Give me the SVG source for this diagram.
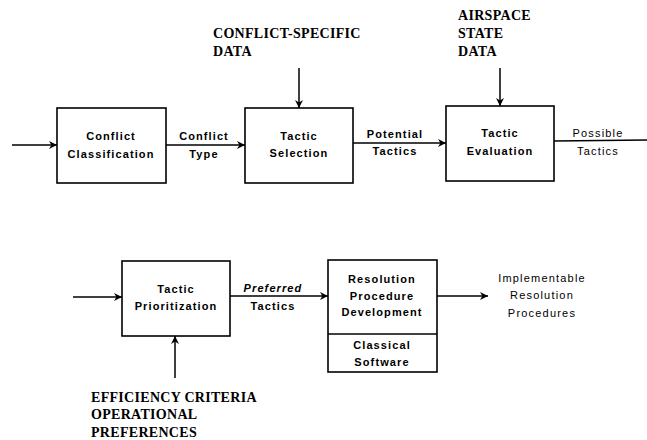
<svg xmlns="http://www.w3.org/2000/svg" width="647" height="440" viewBox="0 0 647 440">
<style>
.box{fill:#fff;stroke:#000;stroke-width:1.6}
.ln{fill:none;stroke:#000;stroke-width:1.5}
.t{font-family:"Liberation Sans",Arial,sans-serif;font-size:11px;font-weight:bold;letter-spacing:1.1px;text-anchor:middle;fill:#000}
.tl{font-family:"Liberation Sans",Arial,sans-serif;font-size:11px;letter-spacing:1.2px;text-anchor:middle;fill:#000}
.c{font-family:"Liberation Serif","Times New Roman",serif;font-size:14px;font-weight:bold;letter-spacing:0.3px;fill:#000}
</style>
<defs>
<marker id="ah" viewBox="0 0 10 10" refX="10" refY="5" markerWidth="8" markerHeight="8" markerUnits="userSpaceOnUse" orient="auto">
<path d="M0,0 L10,5 L0,10 L3,5 Z" fill="#000"/>
</marker>
</defs>
<rect width="647" height="440" fill="#fff"/>
<g id="connectors">
<line class="ln" x1="12" y1="145" x2="57" y2="145" marker-end="url(#ah)"/>
<line class="ln" x1="166" y1="145" x2="245" y2="145" marker-end="url(#ah)"/>
<line class="ln" x1="353" y1="143" x2="446" y2="143" marker-end="url(#ah)"/>
<line class="ln" x1="554" y1="141" x2="647" y2="140"/>
<line class="ln" x1="299" y1="68" x2="299" y2="108" marker-end="url(#ah)"/>
<line class="ln" x1="500" y1="68" x2="500" y2="106" marker-end="url(#ah)"/>
<line class="ln" x1="73" y1="297" x2="122" y2="297" marker-end="url(#ah)"/>
<line class="ln" x1="175" y1="378" x2="175" y2="336" marker-end="url(#ah)"/>
<line class="ln" x1="230" y1="296" x2="328" y2="296" marker-end="url(#ah)"/>
<line class="ln" x1="437" y1="296" x2="488" y2="296" marker-end="url(#ah)"/>
<text class="t" x="204" y="140">Conflict</text>
<text class="t" x="204" y="158">Type</text>
<text class="t" x="395" y="138">Potential</text>
<text class="t" x="395" y="155">Tactics</text>
<text class="tl" x="598" y="137">Possible</text>
<text class="tl" x="598" y="155">Tactics</text>
<text class="t" x="273" y="292" font-style="italic">Preferred</text>
<text class="t" x="273" y="310">Tactics</text>
</g>
<g id="conflict-classification">
<rect class="box" x="57" y="108" width="109" height="75"/>
<text class="t" x="111" y="140">Conflict</text>
<text class="t" x="111" y="158">Classification</text>
</g>
<g id="tactic-selection">
<rect class="box" x="245" y="108" width="108" height="75"/>
<text class="t" x="299" y="140">Tactic</text>
<text class="t" x="299" y="157">Selection</text>
</g>
<g id="tactic-evaluation">
<rect class="box" x="446" y="106" width="108" height="75"/>
<text class="t" x="500" y="137">Tactic</text>
<text class="t" x="500" y="155">Evaluation</text>
</g>
<g id="tactic-prioritization">
<rect class="box" x="122" y="261" width="108" height="75"/>
<text class="t" x="176" y="293">Tactic</text>
<text class="t" x="176" y="310">Prioritization</text>
</g>
<g id="resolution-procedure-development">
<rect class="box" x="328" y="260" width="109" height="112"/>
<line class="ln" x1="328" y1="334" x2="437" y2="334"/>
<text class="t" x="382" y="283">Resolution</text>
<text class="t" x="382" y="300">Procedure</text>
<text class="t" x="382" y="316">Development</text>
<text class="t" x="382" y="349">Classical</text>
<text class="t" x="382" y="366">Software</text>
</g>
<g id="conflict-specific-data">
<text class="c" x="213" y="38">CONFLICT-SPECIFIC</text>
<text class="c" x="213" y="56">DATA</text>
</g>
<g id="airspace-state-data">
<text class="c" x="458" y="20" letter-spacing="1px">AIRSPACE</text>
<text class="c" x="458" y="38" letter-spacing="1px">STATE</text>
<text class="c" x="458" y="56" letter-spacing="1px">DATA</text>
</g>
<g id="efficiency-criteria">
<text class="c" x="91" y="402">EFFICIENCY CRITERIA</text>
<text class="c" x="91" y="419">OPERATIONAL</text>
<text class="c" x="91" y="437">PREFERENCES</text>
</g>
<g id="implementable-resolution-procedures">
<text class="tl" x="542" y="282">Implementable</text>
<text class="tl" x="542" y="299">Resolution</text>
<text class="tl" x="542" y="317">Procedures</text>
</g>
</svg>
